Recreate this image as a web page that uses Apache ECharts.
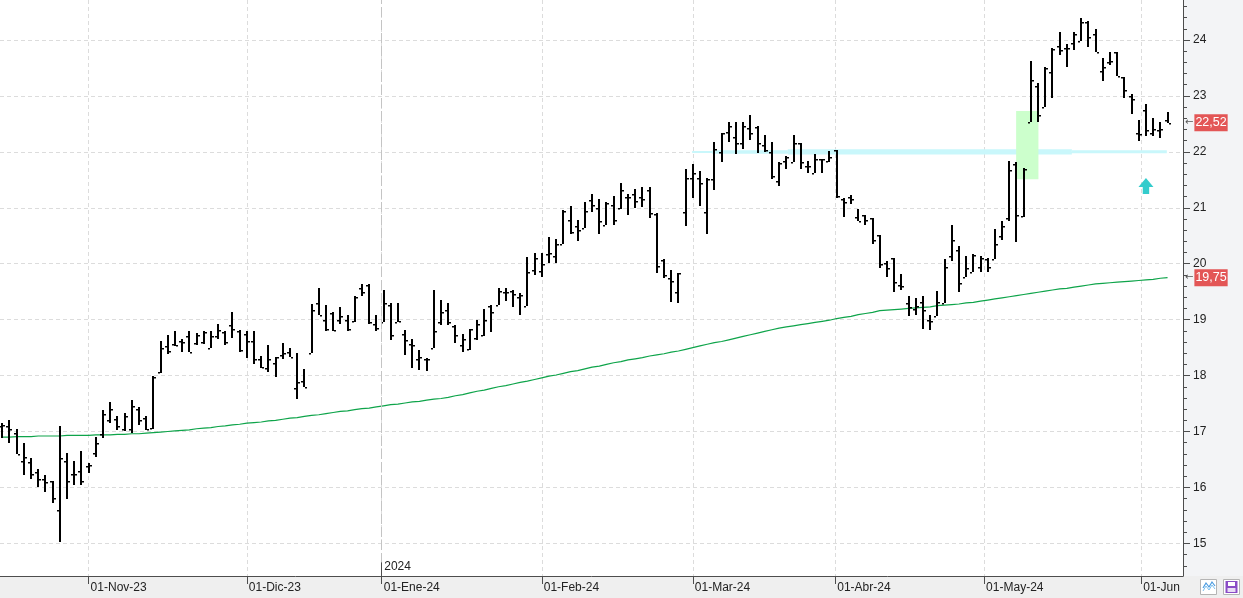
<!DOCTYPE html>
<html><head><meta charset="utf-8">
<script src="https://cdn.jsdelivr.net/npm/echarts@6/dist/echarts.min.js"></script>
<style>html,body{margin:0;padding:0;background:#efefef}#c{width:1243px;height:598px}</style>
</head><body><div id="c"></div>
<script>
// ---------- data ----------
const startDate = '2023-10-16', endDate = '2024-06-06';
const holidays = ['2023-12-25','2023-12-26','2024-01-01','2024-03-29','2024-04-01','2024-05-01'];
const monthStarts = ['2023-11-01','2023-12-01','2024-01-01','2024-02-01','2024-03-01','2024-04-01','2024-05-01','2024-06-01'];
const monthLabels = ['01-Nov-23','01-Dic-23','01-Ene-24','01-Feb-24','01-Mar-24','01-Abr-24','01-May-24','01-Jun'];
const yTicks = [15,16,17,18,19,20,21,22,23,24];
const yearMark = {date:'2024-01-01', label:'2024'};

const open = [
17.10,17.10,16.98,16.47,16.45,16.27,16.16,16.12,15.60,16.47,
16.24,16.30,16.38,16.62,16.95,17.20,17.22,17.05,17.05,17.41,
17.24,17.06,18.06,18.53,18.57,18.62,18.70,18.58,18.60,18.49,
18.70,18.78,18.90,18.80,18.75,18.62,18.30,18.13,18.22,18.36,
18.43,17.77,17.91,18.40,19.29,19.00,19.12,18.99,18.99,18.97,
19.57,19.62,18.93,18.95,19.26,18.96,18.74,18.57,18.30,18.30,
18.50,18.96,19.18,18.88,18.55,18.48,18.67,18.72,19.25,19.27,
19.49,19.52,19.41,19.25,19.89,19.87,20.18,20.14,20.36,20.78,
20.67,20.63,21.14,20.99,20.69,21.05,20.99,21.20,21.25,21.20,
21.32,20.89,20.07,19.74,19.50,20.93,21.53,21.53,20.93,21.51,
21.99,22.36,22.26,22.15,22.42,22.45,22.12,22.00,21.48,21.84,
21.82,22.16,21.75,21.62,21.87,21.84,22.03,21.16,21.20,20.84,
20.87,20.81,20.52,20.01,20.10,19.62,19.30,19.19,19.32,19.00,
19.06,19.29,20.13,20.25,19.77,19.86,19.95,20.08,20.08,20.50,
20.81,21.78,20.86,22.54,23.18,22.81,23.42,23.89,23.86,23.95,
23.99,24.33,24.11,23.45,23.61,23.78,23.33,23.00,22.33,22.75,
22.33,22.39,22.57];
const high = [
17.15,17.20,17.04,16.80,16.52,16.33,16.22,16.12,17.09,16.61,
16.47,16.66,16.44,16.90,17.38,17.53,17.28,17.33,17.56,17.44,
17.28,17.99,18.61,18.73,18.79,18.65,18.79,18.77,18.80,18.80,
18.92,18.80,19.13,18.82,18.80,18.79,18.35,18.55,18.34,18.58,
18.49,18.40,18.11,19.28,19.56,19.26,19.13,19.22,19.08,19.42,
19.64,19.64,19.08,19.53,19.29,19.29,18.82,18.65,18.45,18.31,
19.53,19.36,19.29,18.90,18.75,18.84,18.99,19.19,19.26,19.57,
19.57,19.53,19.47,20.12,20.20,20.20,20.48,20.45,20.96,21.03,
20.79,21.11,21.25,21.15,21.10,21.21,21.45,21.25,21.34,21.37,
21.38,20.91,20.08,19.89,19.83,21.70,21.78,21.65,21.54,22.18,
22.33,22.54,22.53,22.53,22.66,22.46,22.31,22.18,21.81,21.93,
22.30,22.16,21.84,21.96,21.88,22.02,22.04,21.18,21.23,20.98,
20.87,20.82,20.52,20.05,20.11,19.81,19.42,19.39,19.42,19.09,
19.51,20.08,20.69,20.32,20.14,20.17,20.14,20.10,20.62,20.77,
21.84,21.82,21.72,23.62,23.24,23.52,23.85,24.14,23.93,24.14,
24.40,24.34,24.19,23.67,23.78,23.78,23.33,23.03,22.57,22.85,
22.61,22.54,22.71];
const low = [
16.88,16.79,16.59,16.22,16.16,16.01,15.91,15.72,15.03,15.79,
16.04,16.04,16.26,16.55,16.88,17.15,17.03,17.01,16.98,17.12,
17.03,17.04,18.04,18.39,18.53,18.43,18.42,18.55,18.56,18.49,
18.65,18.55,18.68,18.43,18.32,18.20,18.13,18.07,17.98,18.29,
18.33,17.59,17.79,18.40,19.08,18.80,18.80,18.92,18.79,18.96,
19.42,18.93,18.79,18.95,18.64,18.95,18.37,18.13,18.10,18.09,
18.50,18.90,18.90,18.58,18.43,18.46,18.64,18.71,18.78,19.26,
19.34,19.23,19.08,19.25,19.80,19.76,20.01,20.01,20.35,20.53,
20.41,20.63,20.93,20.53,20.69,20.69,20.97,20.87,21.00,21.02,
20.81,19.83,19.74,19.32,19.29,20.68,21.18,21.03,20.54,21.32,
21.82,22.18,21.97,22.06,22.22,21.98,22.00,21.51,21.39,21.70,
21.82,21.70,21.62,21.62,21.63,21.82,21.18,20.84,21.06,20.76,
20.70,20.36,19.92,19.77,19.50,19.53,19.07,19.08,18.83,18.81,
19.06,19.29,20.04,19.50,19.77,19.86,19.85,19.86,20.08,20.42,
20.77,20.38,20.84,22.54,22.54,22.81,22.97,23.73,23.52,23.82,
23.99,23.87,23.79,23.27,23.56,23.36,22.97,22.67,22.20,22.29,
22.29,22.24,22.51];
const close = [
17.12,17.04,16.59,16.54,16.24,16.16,16.10,15.82,16.52,16.12,
16.24,16.12,16.40,16.79,17.31,17.41,17.10,17.28,17.46,17.20,
17.05,17.97,18.49,18.44,18.55,18.60,18.43,18.72,18.78,18.71,
18.82,18.60,18.83,18.45,18.61,18.29,18.16,18.30,18.34,18.40,
18.33,17.88,17.79,19.18,19.08,18.83,18.82,19.06,18.83,19.41,
19.49,18.96,18.85,19.29,18.73,18.97,18.64,18.55,18.34,18.30,
18.80,19.13,18.96,18.73,18.65,18.83,18.92,19.00,19.13,19.51,
19.49,19.45,19.44,19.85,20.11,19.99,20.19,20.35,20.95,20.56,
20.61,20.94,21.05,20.76,21.08,20.78,21.32,21.19,21.13,21.15,
20.90,19.96,19.79,19.70,19.83,21.54,21.62,21.44,21.51,22.06,
22.33,22.46,22.15,22.46,22.34,22.16,22.03,21.56,21.80,21.90,
22.15,21.82,21.74,21.87,21.88,21.90,21.21,21.10,21.15,20.77,
20.79,20.42,19.99,19.93,19.68,19.60,19.23,19.25,19.17,18.98,
19.32,19.94,20.42,19.66,19.93,20.16,20.10,19.95,20.36,20.67,
21.68,20.87,21.70,23.28,22.66,23.50,23.84,23.83,23.85,24.10,
24.33,24.05,23.79,23.52,23.62,23.36,23.11,22.94,22.32,22.39,
22.41,22.40,22.52];
const ma = [
16.90,16.90,16.91,16.91,16.91,16.92,16.92,16.92,16.92,16.93,16.93,16.93,16.93,16.94,
16.94,16.94,16.95,16.95,16.96,16.96,16.97,16.98,16.99,17.00,17.01,17.02,17.03,17.05,
17.06,17.07,17.09,17.10,17.12,17.13,17.15,17.16,17.17,17.19,17.20,17.22,
17.24,17.25,17.27,17.29,17.30,17.32,17.34,17.36,17.37,17.39,17.41,17.42,17.44,17.46,
17.48,17.49,17.51,17.53,17.54,17.56,17.58,17.59,17.61,
17.64,17.66,17.69,17.72,17.74,17.77,17.80,17.82,17.85,17.88,17.90,17.93,17.96,
17.99,18.01,18.04,18.07,18.09,18.12,18.15,18.17,18.20,18.23,18.25,18.28,
18.30,18.32,18.35,18.37,18.39,18.42,18.44,18.47,18.50,
18.53,18.56,18.59,18.61,18.64,
18.67,18.70,18.73,18.76,18.79,18.82,18.85,18.87,18.89,18.91,18.93,18.95,18.97,18.99,19.02,
19.04,19.06,19.09,19.11,19.13,19.16,19.17,19.18,19.19,19.20,
19.21,19.22,19.23,19.25,19.26,19.27,19.28,19.30,19.31,19.33,
19.35,19.37,19.39,19.41,19.43,19.45,19.47,19.49,19.51,
19.53,19.55,19.56,19.58,19.60,19.62,19.64,
19.65,19.66,19.67,19.68,19.69,19.70,19.71,19.72,19.74,19.75];
const maLast = 19.75;
const signalZone = {from:'2024-05-08', to:'2024-05-13', low:21.51, high:22.73};
const supportBands = [ // [fromIdx, toIdx, low, high]
  [95.9, 98.7, 21.98, 22.015],
  [98.7, 109.2, 21.965, 22.03],
  [109.2, 148.7, 21.952, 22.047],
  [148.7, 161.9, 21.975, 22.03]
];
const arrowSignal = {date:'2024-06-03', value:21.39};

// ---------- helpers ----------
const DAY = 864e5;
const tOf = s => Date.parse(s + 'T00:00:00Z');
const dates = [];
for (let t = tOf(startDate); t <= tOf(endDate); t += DAY) {
  const d = new Date(t), wd = d.getUTCDay(), s = d.toISOString().slice(0,10);
  if (wd === 0 || wd === 6 || holidays.includes(s)) continue;
  dates.push(s);
}
function datePos(s) {
  const t = tOf(s);
  const k = dates.findIndex(d => tOf(d) >= t);
  const tk = tOf(dates[k]);
  if (tk === t || k === 0) return k;
  const tp = tOf(dates[k-1]);
  return k - 1 + (t - tp) / (tk - tp);
}
const monthPos = monthStarts.map(datePos);
const yearPos = datePos(yearMark.date);
const minorTicks = [];
for (let k = 73; k <= 123; k++) { if (k % 5) minorTicks.push(k / 5); }
const fmt = v => v.toFixed(2).replace('.', ',');
const FONT = 'Liberation Sans, Arial, sans-serif';
const Y_MIN = 14.417, Y_MAX = 24.715;

const ohlc = open.map((o, i) => [i, o, high[i], low[i], close[i]]);
const maData = ma.map((v, i) => [i, v]);

const tagRich = {
  a: {color:'#555', fontSize:10, fontFamily:'DejaVu Sans', padding:[0,1,0,0]},
  b: {color:'#fff', backgroundColor:'#e35656', fontSize:12.5, lineHeight:14, fontFamily:FONT, padding:[2,1,2,1]}
};
const hiddenLine = {color:'rgba(0,0,0,0)', width:0};

const chart = echarts.init(document.getElementById('c'), null, {renderer:'canvas'});
chart.setOption({
  animation: false,
  backgroundColor: '#efefef',
  grid: {left:0, right:60, top:0, bottom:22, show:true, backgroundColor:'#ffffff', borderWidth:0},
  graphic: [
    {type:'rect', z:-10, shape:{x:1183, y:0, width:60, height:576}, style:{fill:'#f3f4f6'}},
    {type:'rect', z:10, shape:{x:1200.5, y:579.5, width:16, height:15}, style:{fill:'#fff', stroke:'#b4b4b4', lineWidth:1}},
    {type:'polyline', z:11, shape:{points:[[1203,588],[1206,583],[1209,587],[1212,582],[1215,586]]}, style:{stroke:'#4a9be0', lineWidth:1.2, fill:null}},
    {type:'polyline', z:11, shape:{points:[[1203,591],[1206,586],[1209,590],[1212,585],[1215,589]]}, style:{stroke:'#7cc0f0', lineWidth:1, fill:null}},
    {type:'rect', z:10, shape:{x:1223.5, y:579.5, width:16, height:15}, style:{fill:'#fff', stroke:'#b4b4b4', lineWidth:1}},
    {type:'rect', z:11, shape:{x:1225.5, y:581, width:12, height:12}, style:{fill:'#8a4cc6'}},
    {type:'rect', z:12, shape:{x:1228, y:582, width:7, height:4}, style:{fill:'#fff'}},
    {type:'rect', z:12, shape:{x:1227.5, y:588, width:8, height:4}, style:{fill:'#e8dcf5'}}
  ],
  xAxis: {
    type:'value', min:-0.32, max:164.15,
    axisLine:{show:true, onZero:false, lineStyle:{color:'#4d4d4d', width:1}},
    axisTick:{show:true, customValues:monthPos, length:8, lineStyle:{color:'#4d4d4d'}},
    axisLabel:{show:true, customValues:monthPos, align:'left', margin:6, padding:[0,0,0,2],
      color:'#222', fontSize:12, fontFamily:FONT,
      formatter: v => { let b = 0; monthPos.forEach((p, i) => { if (Math.abs(p - v) < Math.abs(monthPos[b] - v)) b = i; }); return monthLabels[b]; }},
    splitLine:{show:true, lineStyle:{color:'#dcdcdc', type:[4,3], width:1}}
  },
  yAxis: [
    {type:'value', position:'right', min:Y_MIN, max:Y_MAX,
      axisLine:{show:true, onZero:false, lineStyle:{color:'#4d4d4d', width:1}},
      axisTick:{show:true, customValues:yTicks, length:7, lineStyle:{color:'#4d4d4d'}},
      axisLabel:{show:true, customValues:yTicks, margin:10, color:'#222', fontSize:12, fontFamily:FONT},
      splitLine:{show:true, lineStyle:{color:'#dcdcdc', type:[4,3], width:1}}},
    {type:'value', position:'left', offset:-1183, min:Y_MIN, max:Y_MAX,
      axisLine:{show:false, onZero:false},
      axisTick:{show:true, inside:true, customValues:minorTicks, length:4, lineStyle:{color:'#4d4d4d'}},
      axisLabel:{show:false}, splitLine:{show:false}}
  ],
  series: [
    {
      type:'line', name:'MA', data:maData, showSymbol:false, clip:false, z:2,
      lineStyle:{color:'#0ea44a', width:1.2}, silent:true,
      markArea:{silent:true, data:[
        ...supportBands.map(b => [{xAxis:b[0], yAxis:b[3], itemStyle:{color:'#c9f7fb'}}, {xAxis:b[1], yAxis:b[2]}]),
        [{xAxis:datePos(signalZone.from) - 0.05, yAxis:signalZone.high, itemStyle:{color:'#ccffcc'}}, {xAxis:datePos(signalZone.to) + 0.05, yAxis:signalZone.low}]
      ]},
      markLine:{silent:true, symbol:['none','none'], animation:false, data:[
        {xAxis:yearPos, lineStyle:{color:'#c4c4c4', type:[10,3], width:1}, label:{show:false}},
        [{coord:[yearPos, Y_MIN], lineStyle:{color:'#4d4d4d', type:'solid', width:1}, label:{show:false}},
         {coord:[yearPos, 14.66], lineStyle:{color:'#4d4d4d', type:'solid', width:1}}],
        {yAxis:close[close.length-1], lineStyle:hiddenLine, label:{show:true, position:'end', distance:2, formatter:'{a|←}{b|' + fmt(close[close.length-1]) + '}', rich:tagRich}},
        {yAxis:maLast, lineStyle:hiddenLine, label:{show:true, position:'end', distance:2, formatter:'{a|←}{b|' + fmt(maLast) + '}', rich:tagRich}}
      ]},
      markPoint:{silent:true, data:[
        {coord:[datePos(arrowSignal.date), arrowSignal.value], symbol:'path://M7,0 L14,9 L10,9 L10,16 L4,16 L4,9 L0,9 Z', symbolSize:[15,16], itemStyle:{color:'#33cccc'}, label:{show:false}},
        {coord:[yearPos, 14.583], symbol:'rect', symbolSize:1, itemStyle:{color:'rgba(0,0,0,0)'},
          label:{show:true, position:'right', distance:2, formatter:yearMark.label, color:'#222', fontSize:12, fontFamily:FONT}}
      ]}
    },
    {
      type:'custom', name:'OHLC', data:ohlc, z:3, clip:true, silent:true,
      dimensions:['i','open','high','low','close'],
      encode:{x:0, y:[1,2,3,4]},
      renderItem: (params, api) => {
        const i = api.value(0);
        const px = Math.round(api.coord([i, api.value(2)])[0]);
        const yH = Math.round(api.coord([i, api.value(2)])[1]);
        const yL = Math.round(api.coord([i, api.value(3)])[1]);
        const yO = Math.round(api.coord([i, api.value(1)])[1]);
        const yC = Math.round(api.coord([i, api.value(4)])[1]);
        const st = {fill:'#000'};
        return {type:'group', children:[
          {type:'rect', shape:{x:px-1, y:yH, width:2, height:Math.max(1, yL - yH)}, style:st},
          {type:'rect', shape:{x:px-3, y:yO, width:2, height:1.5}, style:st},
          {type:'rect', shape:{x:px+1, y:yC, width:2, height:1.5}, style:st}
        ]};
      }
    }
  ]
});
</script>
</body></html>
